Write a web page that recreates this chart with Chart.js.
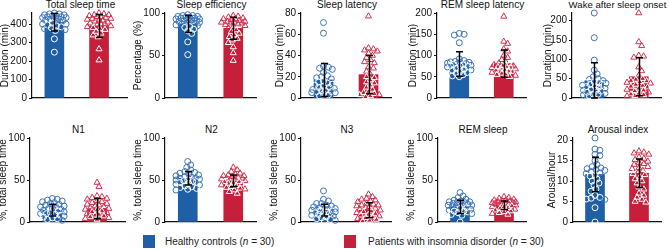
<!DOCTYPE html>
<html>
<head>
<meta charset="utf-8">
<script src="https://cdn.jsdelivr.net/npm/chart.js@4.4.0/dist/chart.umd.min.js"></script>
<style>
  body { margin: 0; width: 669px; height: 249px; overflow: hidden; background: #fff; font-family: "Liberation Sans", Arial, sans-serif; position: relative; }
  canvas { position: absolute; }
  .title { position: absolute; width: 130px; text-align: center; font-size: 10px; line-height: 12px; color: #111; white-space: nowrap; }
  .swatch { position: absolute; top: 235px; width: 12px; height: 13px; }
  .legend { position: absolute; top: 235px; font-size: 10px; line-height: 13px; color: #222; white-space: nowrap; }
</style>
</head>
<body>
<div class="swatch" style="left:143px;background:#1f5fa6"></div>
<div class="legend" style="left:165px">Healthy controls (<i>n</i> = 30)</div>
<div class="swatch" style="left:344px;background:#c51f3b"></div>
<div class="legend" style="left:368px">Patients with insomnia disorder (<i>n</i> = 30)</div>
<script>
// panel labels and axes
const titles = ['Total sleep time', 'Sleep efficiency', 'Sleep latency', 'REM sleep latency', 'Wake after sleep onset',
                'N1', 'N2', 'N3', 'REM sleep', 'Arousal index'];
const yTitles = ['Duration (min)', 'Percentage (%)', 'Duration (min)', 'Duration (min)', 'Duration (min)',
                 '%, total sleep time', '%, total sleep time', '%, total sleep time', '%, total sleep time', 'Arousal/hour'];
const yMax = [460, 100, 80, 200, 220, 100, 100, 100, 100, 20.5];
const yStep = [100, 50, 20, 50, 50, 50, 50, 50, 50, 5];

// bar heights (mean) and error bars (SD)
const hcMean = [410, 87, 17, 80, 45, 14, 52, 14, 18, 11.6];
const hcSD   = [47, 10, 15.5, 29, 46, 7, 8, 7, 8, 4.2];
const idMean = [390, 82, 22, 81, 55, 16, 49, 14, 20, 11.9];
const idSD   = [62, 13, 18, 32, 49, 12, 7, 9, 5, 3.5];

// individual subjects
const tstHC = [460, 455, 455, 450, 450, 445, 445, 440, 440, 435, 435, 430, 430, 425, 420, 420, 415, 410, 405, 400, 400, 395, 390, 385, 380, 375, 370, 365, 320, 248];
const tstID = [460, 455, 450, 450, 445, 440, 440, 435, 430, 430, 425, 420, 420, 415, 410, 405, 400, 400, 395, 390, 385, 380, 375, 370, 360, 350, 340, 330, 265, 205];
const seHC = [98, 97, 97, 96, 96, 95, 95, 94, 94, 93, 93, 92, 92, 91, 91, 90, 90, 89, 88, 88, 87, 86, 85, 84, 83, 81, 79, 76, 66, 51];
const seID = [97, 96, 95, 94, 93, 93, 92, 91, 90, 90, 89, 89, 88, 88, 87, 86, 85, 84, 82, 80, 78, 76, 74, 72, 70, 68, 65, 60, 53, 44];
const slHC = [71, 61, 30, 29, 28, 27, 24, 21, 20, 19, 18, 16, 15, 14, 13, 12, 11, 10, 10, 9, 8, 7, 7, 6, 6, 5, 5, 4, 3, 2];
const slID = [77, 47, 46, 45, 44, 42, 40, 38, 36, 34, 33, 29, 28, 25, 22, 20, 19, 17, 15, 14, 12, 10, 8, 6, 5, 4, 3, 3, 2, 1];
const rlHC = [152, 150, 148, 130, 92, 88, 86, 85, 84, 83, 82, 81, 80, 79, 78, 77, 76, 75, 74, 73, 70, 68, 66, 65, 63, 60, 58, 55, 52, 50];
const rlID = [192, 133, 128, 115, 110, 100, 95, 90, 85, 82, 80, 78, 76, 75, 74, 73, 72, 71, 70, 68, 66, 65, 63, 62, 60, 58, 56, 55, 53, 50];
const wsHC = [220, 156, 98, 72, 62, 55, 50, 48, 45, 42, 40, 40, 38, 35, 35, 33, 30, 30, 28, 25, 22, 20, 20, 18, 15, 12, 10, 10, 8, 6];
const wsID = [220, 145, 135, 110, 108, 105, 80, 70, 58, 50, 48, 45, 44, 42, 40, 38, 35, 32, 30, 28, 25, 22, 20, 18, 15, 12, 10, 8, 6, 5];
const n1HC = [28, 27, 26, 25, 24, 23, 22, 21, 20, 19, 18, 17, 17, 16, 15, 14, 14, 13, 12, 11, 10, 10, 9, 8, 7, 6, 5, 4, 3, 2];
const n1ID = [47, 42, 31, 30, 29, 28, 27, 25, 24, 23, 22, 21, 20, 19, 18, 17, 16, 15, 14, 13, 12, 11, 10, 9, 8, 7, 6, 5, 4, 3];
const n2HC = [72, 68, 65, 62, 60, 59, 58, 57, 56, 55, 54, 53, 52, 52, 51, 50, 50, 49, 48, 48, 47, 46, 45, 44, 43, 42, 41, 40, 39, 38];
const n2ID = [65, 62, 60, 58, 57, 56, 55, 55, 54, 53, 52, 52, 51, 50, 50, 49, 48, 48, 47, 46, 45, 44, 43, 42, 41, 40, 39, 38, 36, 34];
const n3HC = [37, 27, 25, 22, 22, 20, 19, 18, 17, 16, 15, 15, 14, 14, 13, 13, 12, 12, 11, 10, 10, 9, 8, 7, 6, 5, 4, 3, 2, 1];
const n3ID = [33, 30, 28, 27, 26, 25, 24, 22, 21, 20, 20, 19, 18, 17, 16, 15, 14, 13, 12, 11, 10, 9, 8, 7, 6, 5, 4, 3, 2, 1];
const remHC = [35, 31, 29, 27, 26, 25, 24, 24, 23, 23, 22, 22, 21, 20, 20, 19, 18, 18, 17, 16, 15, 14, 13, 13, 12, 11, 10, 9, 8, 0];
const remID = [30, 29, 28, 27, 26, 26, 25, 25, 24, 24, 23, 23, 22, 22, 21, 21, 20, 20, 19, 18, 18, 17, 16, 15, 14, 13, 12, 11, 10, 9];
const arHC = [20.5, 17.8, 17.5, 16.5, 16.2, 15, 14, 13.5, 13.2, 13, 12.8, 12.6, 12.3, 12, 11.8, 11.5, 11.2, 10.5, 10, 9.5, 9, 8, 7.5, 6.5, 6, 5.8, 5.6, 5.5, 3.5, 0];
const arID = [17.3, 17, 16.8, 16.5, 15.8, 15.5, 15.2, 14.8, 14.5, 14.2, 14, 13.5, 13.2, 13, 12.5, 12, 11.8, 11.5, 11, 10.5, 10, 9.5, 8.5, 8, 7, 6.5, 6, 5.5, 5, 4.8];

const hcSets = [tstHC, seHC, slHC, rlHC, wsHC, n1HC, n2HC, n3HC, remHC, arHC];
const idSets = [tstID, seID, slID, rlID, wsID, n1ID, n2ID, n3ID, remID, arID];

// layout of the 10 panels (pixels)
const axisX = [32, 165, 301, 437, 572, 30, 165, 301, 438, 573];
const plotW = [97, 93, 92, 91, 91, 97, 93, 92, 90, 90];
const xMax  = [4.25, 4, 4, 4, 4, 4.25, 4, 4, 4, 4];
const yAxW  = [33, 33, 27, 30, 30, 33, 33, 33, 33, 27];
const rowTop = [13, 138], rowH = [85, 84];

const BLUE = '#1f5fa6', RED = '#c51f3b';
const BLUE_PT = '#3a74bb', RED_PT = '#d23250';
const BAR_W = 19;

Chart.defaults.font.family = '"Liberation Sans", Arial, sans-serif';
Chart.defaults.font.size = 10;
Chart.defaults.color = '#111';

// spread the dots sideways so they do not pile up (simple beeswarm in pixels)
function swarm(vals, center, pxY, pxX) {
    const order = vals.map((v, i) => i).sort((a, b) => vals[b] - vals[a]);
    const placed = [];
    const out = [];
    order.forEach(i => {
        const py = vals[i] * pxY;
        let best = 0, bestD = -1;
        for (let k = 0; k <= 24; k++) {
            const off = (k % 2 ? 1 : -1) * Math.ceil(k / 2);
            let dmin = Infinity;
            placed.forEach(p => {
                const d = Math.hypot(p[0] - off, p[1] - py);
                if (d < dmin) dmin = d;
            });
            if (dmin >= 4.5) { best = off; break; }
            if (dmin > bestD) { bestD = dmin; best = off; }
        }
        placed.push([best, py]);
        out[i] = { x: center + best / pxX, y: vals[i], off: best };
    });
    return out;
}

const errorBars = {
    id: 'errorBars',
    afterDatasetsDraw(chart, args, opts) {
        const { ctx, scales: { x, y } } = chart;
        ctx.save();
        ctx.strokeStyle = '#000';
        ctx.lineWidth = 1.5;
        opts.items.forEach(e => {
            const px = Math.round(x.getPixelForValue(e.x)) + 0.5;
            const top = y.getPixelForValue(e.m + e.sd);
            const bot = y.getPixelForValue(Math.max(0, e.m - e.sd));
            ctx.beginPath();
            ctx.moveTo(px, top); ctx.lineTo(px, bot);
            ctx.moveTo(px - 3.5, top); ctx.lineTo(px + 3.5, top);
            ctx.moveTo(px - 3.5, bot); ctx.lineTo(px + 3.5, bot);
            ctx.stroke();
        });
        ctx.restore();
    }
};

function pointColor(mean, base) {
    return function(c) {
        const r = c.raw;
        if (r && r.y < mean && Math.abs(r.off) < BAR_W / 2) return '#fff';
        return base;
    };
}

for (let i = 0; i < 10; i++) {
    const row = i < 5 ? 0 : 1;
    const top = rowTop[row] - 13;
    const h = rowH[row];

    const t = document.createElement('div');
    t.className = 'title';
    t.textContent = titles[i];
    t.style.left = (axisX[i] + plotW[i] / 2 - 65) + 'px';
    t.style.top = (top - 1) + 'px';
    if (titles[i].length > 20) t.style.fontSize = '9.6px';   // long title has to fit before the page edge
    document.body.appendChild(t);

    const cv = document.createElement('canvas');
    const cw = yAxW[i] + plotW[i] + 3;
    const ch = 13 + h + 8;
    cv.width = cw; cv.height = ch;
    cv.style.left = (axisX[i] - yAxW[i]) + 'px';
    cv.style.top = top + 'px';
    cv.style.width = cw + 'px'; cv.style.height = ch + 'px';
    document.body.appendChild(cv);

    const pxY = h / yMax[i], pxX = plotW[i] / xMax[i];
    const hcPts = swarm(hcSets[i], 1, pxY, pxX);
    const idPts = swarm(idSets[i], 3, pxY, pxX);

    new Chart(cv, {
        type: 'bar',
        data: {
            datasets: [{
                type: 'bar',
                data: [{ x: 1, y: hcMean[i] }, { x: 3, y: idMean[i] }],
                backgroundColor: [BLUE, RED],
                barThickness: BAR_W,
                order: 2
            }, {
                type: 'scatter',
                data: hcPts,
                pointStyle: 'circle',
                pointRadius: 3,
                pointBorderWidth: 1,
                pointBackgroundColor: 'rgba(0,0,0,0)',
                pointBorderColor: pointColor(hcMean[i], BLUE_PT),
                clip: false,
                order: 1
            }, {
                type: 'scatter',
                data: idPts,
                pointStyle: 'triangle',
                pointRadius: 3.5,
                pointBorderWidth: 1,
                pointBackgroundColor: 'rgba(0,0,0,0)',
                pointBorderColor: pointColor(idMean[i], RED_PT),
                clip: false,
                order: 1
            }]
        },
        options: {
            responsive: false,
            animation: false,
            events: [],
            layout: { padding: { top: 13, right: 3 } },
            plugins: {
                legend: { display: false },
                tooltip: { enabled: false },
                errorBars: {
                    items: [{ x: 1, m: hcMean[i], sd: hcSD[i] }, { x: 3, m: idMean[i], sd: idSD[i] }]
                }
            },
            scales: {
                x: {
                    type: 'linear',
                    min: 0,
                    max: xMax[i],
                    offset: false,
                    ticks: { display: false },
                    grid: { display: false },
                    border: { color: '#111', width: 1.2 },
                    afterFit: s => { s.height = 8; }
                },
                y: {
                    min: 0,
                    max: yMax[i],
                    ticks: { stepSize: yStep[i], includeBounds: false, padding: 2, color: '#111', font: { size: 10 } },
                    grid: { drawOnChartArea: false, drawTicks: true, tickLength: 3, color: '#111' },
                    border: { color: '#111', width: 1.2 },
                    title: { display: true, text: yTitles[i], padding: 0, font: { size: 10 }, color: '#111' },
                    afterFit: s => { s.width = yAxW[i]; }
                }
            }
        },
        plugins: [errorBars]
    });
}
</script>
</body>
</html>
